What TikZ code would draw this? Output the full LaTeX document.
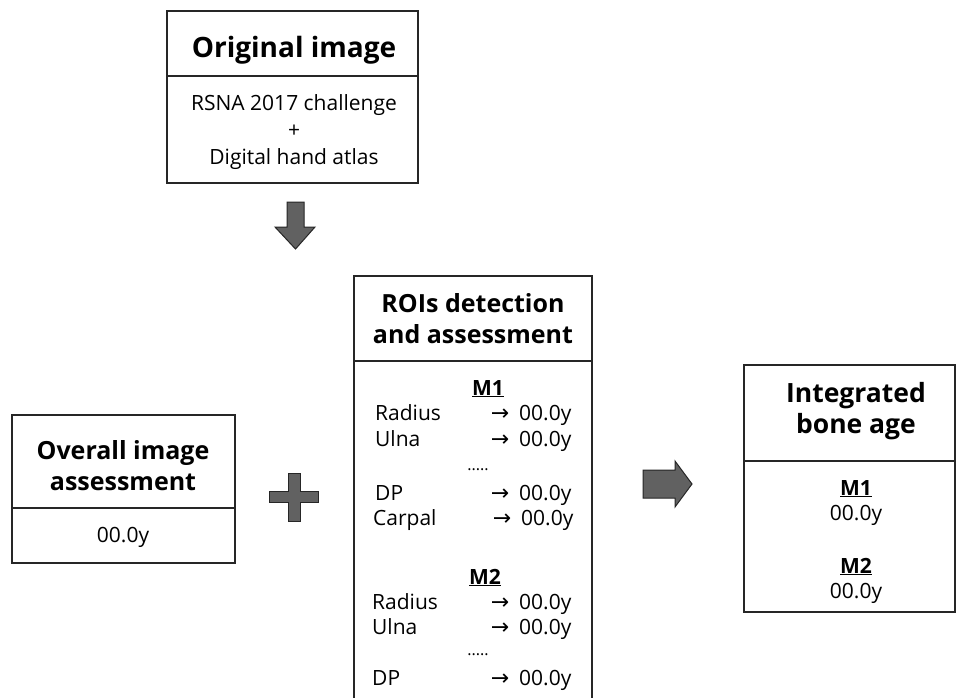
\documentclass[tikz,border=0pt]{standalone}
\usepackage{fontspec}
\setmainfont{Open Sans}
\newfontfamily\arrowfont{DejaVu Sans}
\begin{document}
\begin{tikzpicture}[x=1pt,y=-1pt,
  box/.style={draw=black!85, line width=1.8pt},
  bigsym/.style={fill=black!62, draw=black!85, line width=1pt, line join=miter},
  hd/.style={font=\fontsize{25}{30}\selectfont\bfseries, anchor=base, inner sep=0},
  inhd/.style={font=\fontsize{26.5}{30}\selectfont\bfseries, anchor=base, inner sep=0},
  bighd/.style={font=\fontsize{28}{32}\selectfont\bfseries, anchor=base, inner sep=0},
  bd/.style={font=\fontsize{21}{24}\selectfont, anchor=base, inner sep=0},
  lw/.style={font=\fontsize{21}{24}\selectfont, anchor=base west, inner sep=0},
  ar/.style={font=\fontsize{22}{24}\selectfont\arrowfont, anchor=base, inner sep=0},
  dots/.style={font=\fontsize{16}{20}\selectfont, anchor=base, inner sep=0}
]
\clip (0,0) rectangle (958,697);
\fill[white] (0,0) rectangle (958,697);

% Original image box
\draw[box] (167,11) rectangle (418,183);
\draw[box] (167,76) -- (418,76);
\node[bighd] (origT) at (294,57) {Original image};
\node[bd] (origA) at (294,110) {RSNA 2017 challenge};
\node[bd] (origP) at (294,137) {+};
\node[bd] (origB) at (294,164) {Digital hand atlas};

% down arrow
\draw[bigsym] (287,202) -- (304,202) -- (304,227) -- (315,227) -- (295.5,249)
  -- (275,227) -- (287,227) -- cycle;

% Overall box
\draw[box] (12,415) rectangle (235,563);
\draw[box] (12,508) -- (235,508);
\node[hd] (ovA) at (123,459) {Overall image};
\node[hd] (ovB) at (123,490) {assessment};
\node[bd] (ovV) at (123,542) {00.0y};

% plus
\draw[bigsym] (288,473) -- (300,473) -- (300,491) -- (318,491) -- (318,502)
  -- (300,502) -- (300,521) -- (288,521) -- (288,502) -- (269,502)
  -- (269,491) -- (288,491) -- cycle;

% ROI box
\draw[box] (354,720) -- (354,276) -- (592,276) -- (592,720);
\draw[box] (354,361) -- (592,361);
\node[hd] (roiA) at (473,312) {ROIs detection};
\node[hd] (roiB) at (473,343) {and assessment};

\node[bd] (m1) at (488,395) {\underline{\textbf{M1}}};
\node[lw] (r1) at (375,420) {Radius};
\node[ar] (r1a) at (500,420) {→};
\node[lw] (r1v) at (519,420) {00.0y};
\node[lw] (u1) at (375,446) {Ulna};
\node[ar] (u1a) at (500,446) {→};
\node[lw] (u1v) at (519,446) {00.0y};
\node[dots] (d1) at (478,470) {.....};
\node[lw] (p1) at (375,500) {DP};
\node[ar] (p1a) at (500,500) {→};
\node[lw] (p1v) at (519,500) {00.0y};
\node[lw] (c1) at (373,525) {Carpal};
\node[ar] (c1a) at (502,525) {→};
\node[lw] (c1v) at (521,525) {00.0y};

\node[bd] (m2) at (485,584) {\underline{\textbf{M2}}};
\node[lw] (r2) at (372,609) {Radius};
\node[ar] (r2a) at (500,609) {→};
\node[lw] (r2v) at (519,609) {00.0y};
\node[lw] (u2) at (372,634) {Ulna};
\node[ar] (u2a) at (500,634) {→};
\node[lw] (u2v) at (519,634) {00.0y};
\node[dots] (d2) at (478,655) {.....};
\node[lw] (p2) at (372,685) {DP};
\node[ar] (p2a) at (500,685) {→};
\node[lw] (p2v) at (519,685) {00.0y};

% right arrow
\draw[bigsym] (643,470) -- (675,470) -- (675,461) -- (692,484) -- (675,507)
  -- (675,498) -- (643,498) -- cycle;

% Integrated box
\draw[box] (744,365) rectangle (955,612);
\draw[box] (744,461) -- (955,461);
\node[inhd] (inA) at (856,402) {Integrated};
\node[inhd] (inB) at (856,433) {bone age};
\node[bd] (im1) at (856,495) {\underline{\textbf{M1}}};
\node[bd] (im1v) at (856,520) {00.0y};
\node[bd] (im2) at (856,573) {\underline{\textbf{M2}}};
\node[bd] (im2v) at (856,598) {00.0y};
\end{tikzpicture}
\end{document}
